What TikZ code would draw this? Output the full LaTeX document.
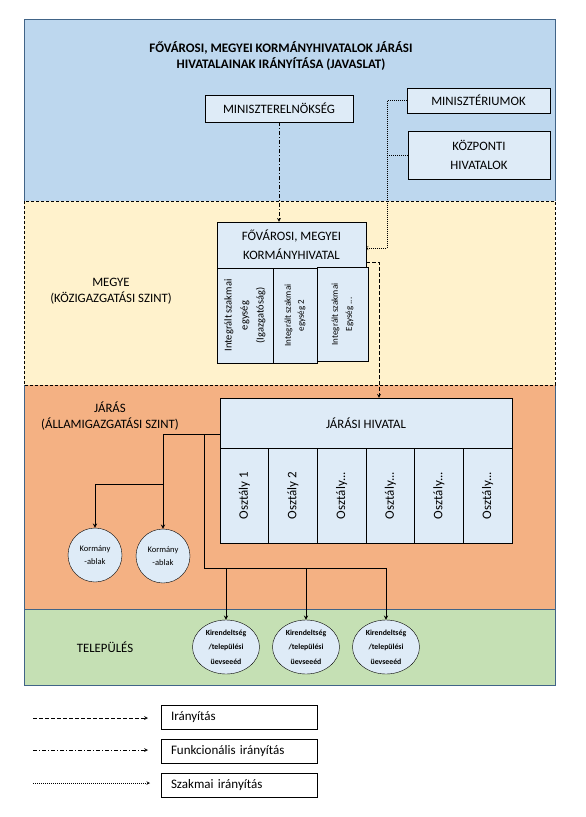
\documentclass[tikz,border=0pt]{standalone}
\usepackage{fontspec}
\setmainfont{Carlito}
\usetikzlibrary{shapes.geometric, arrows, calc}

\definecolor{skyband}{HTML}{BDD7EE}
\definecolor{sandband}{HTML}{FFF2CC}
\definecolor{rustband}{HTML}{F4B183}
\definecolor{leafband}{HTML}{C5E0B4}
\definecolor{boxfill}{HTML}{DEEBF7}
\definecolor{bandedge}{RGB}{65,100,135}

\begin{document}
\begin{tikzpicture}[x=1pt, y=-1pt,
        % Define node styles
        titletext/.style={font=\fontsize{13}{16}\selectfont\bfseries, align=center},
        tiertext/.style={font=\fontsize{12.8}{16}\selectfont, align=center},
        officebox/.style={rectangle, draw, fill=boxfill, inner sep=0pt, align=center, font=\fontsize{12.8}{19}\selectfont},
        unitbox/.style={rectangle, draw, fill=boxfill, inner sep=0pt, align=center},
        deptbox/.style={rectangle, draw, fill=boxfill, inner sep=0pt, minimum width=95pt, minimum height=48.67pt, font=\fontsize{13}{15}\selectfont},
        winnode/.style={circle, draw, fill=boxfill, inner sep=0pt, minimum size=54pt, align=center, font=\fontsize{8.5}{13}\selectfont},
        kirnode/.style={ellipse, draw, fill=boxfill, inner sep=0pt, minimum width=67pt, minimum height=54pt, align=center, font=\fontsize{7.8}{14.5}\selectfont\bfseries},
        legbox/.style={rectangle, draw, fill=white, minimum width=156pt, minimum height=24pt, inner sep=0pt, text width=136pt, align=left, font=\fontsize{13}{14}\selectfont},
        arrow/.style={->, >=stealth},
        ctrlline/.style={arrow, line width=0.7pt, dash pattern=on 3.5pt off 2.5pt},
        funcline/.style={arrow, line width=0.7pt, dash pattern=on 4pt off 2pt on 1pt off 2pt},
        proline/.style={line width=0.6pt, dash pattern=on 1pt off 1pt},
        treeline/.style={arrow, line width=0.9pt}
    ]
    \useasboundingbox (0,0) rectangle (586,817);

    % Bands
    \fill[skyband] (24,19) rectangle (555,201);
    \fill[sandband] (24,201) rectangle (555,385);
    \fill[rustband] (24,385) rectangle (555,609);
    \fill[leafband] (24,609) rectangle (555,685);
    \draw[bandedge] (24,201) -- (24,19) -- (555,19) -- (555,201);
    \draw[bandedge] (24,385) -- (24,609) (555,385) -- (555,609);
    \draw[bandedge] (24,609) rectangle (555,685);
    \draw[line width=0.7pt, dash pattern=on 3pt off 2pt] (24,201) rectangle (555,385);

    % Top level
    \node[titletext] (title) at (281,56) {FŐVÁROSI, MEGYEI KORMÁNYHIVATALOK JÁRÁSI\\HIVATALAINAK IRÁNYÍTÁSA (JAVASLAT)};
    \node[officebox, minimum width=148pt, minimum height=27pt] (pm) at (279,108.5) {MINISZTERELNÖKSÉG};
    \node[officebox, minimum width=143pt, minimum height=25pt] (mins) at (478.5,100.5) {MINISZTÉRIUMOK};
    \node[officebox, minimum width=142pt, minimum height=48pt] (kozp) at (479,155) {KÖZPONTI\\HIVATALOK};

    % County level
    \node[tiertext] (megye) at (111,291) {MEGYE\\(KÖZIGAZGATÁSI SZINT)};
    \node[officebox, minimum width=149pt, minimum height=46pt] (kh) at (291.5,245) {FŐVÁROSI, MEGYEI\\KORMÁNYHIVATAL};
    \node[unitbox, rotate=90, minimum width=95pt, minimum height=56pt, font=\fontsize{10.5}{16}\selectfont] (ie1) at (245,315.5) {Integrált szakmai\\egység\\(Igazgatóság)};
    \node[unitbox, rotate=90, minimum width=95pt, minimum height=44pt, font=\fontsize{9}{13}\selectfont] (ie2) at (295,315.5) {Integrált szakmai\\egység 2};
    \node[unitbox, rotate=90, minimum width=94pt, minimum height=51pt, font=\fontsize{9}{14}\selectfont] (ie3) at (342.5,314.5) {Integrált szakmai\\Egység ...};

    % District level
    \node[tiertext] (jaras) at (110,416) {JÁRÁS\\(ÁLLAMIGAZGATÁSI SZINT)};
    \node[officebox, minimum width=292pt, minimum height=50pt] (jh) at (366,423) {JÁRÁSI HIVATAL};
    \foreach \i/\lbl in {1/{Osztály 1}, 2/{Osztály 2}, 3/{Osztály...}, 4/{Osztály...}, 5/{Osztály...}, 6/{Osztály...}}
        \node[deptbox, rotate=90] (o\i) at ({220+48.67*(\i-0.5)},495.5) {\lbl};
    \node[winnode] (kab1) at (95,555) {Kormány\\-ablak};
    \node[winnode] (kab2) at (163,556) {Kormány\\-ablak};

    % Settlement level
    \node[tiertext] (telep) at (105,647) {TELEPÜLÉS};
    \foreach \i/\x in {1/226, 2/306, 3/386}
        \node[kirnode] (kir\i) at (\x,647) {Kirendeltség\\/települési\\üevseeéd};

    % Connect the offices
    \draw[funcline] (pm) -- (pm |- kh.north);
    \coordinate (pbend) at (387,248);
    \draw[proline, -to] (mins.west) -| (pbend) -- (kh.east |- pbend);
    \draw[proline] (kozp.west) -- (kozp.west -| pbend);
    \coordinate (cbend) at (379,262);
    \draw[ctrlline] (kh.east |- cbend) -- (cbend) -- (cbend |- jh.north);

    \coordinate (wsplit) at (163,434);
    \coordinate (wfork) at (163,484);
    \coordinate (ksplit) at (204,434);
    \coordinate (kbus) at (204,568);
    \draw[treeline] (jh.west |- wsplit) -- (wsplit) -- (kab2.north);
    \draw[treeline] (wfork) -| (kab1.north);
    \draw[line width=0.9pt] (ksplit) -- (kbus) -- (kbus -| kir3.north);
    \foreach \i in {1,2,3}
        \draw[treeline] (kbus -| kir\i.north) -- (kir\i.north);

    % Legend
    \node[legbox] (leg1) at (239,717) {Irányítás};
    \node[legbox] (leg2) at (239,751.5) {Funkcionális irányítás};
    \node[legbox] (leg3) at (239,785.5) {Szakmai irányítás};
    \coordinate (lg1a) at (33,718);
    \coordinate (lg1b) at (148,718);
    \coordinate (lg2a) at (33,750);
    \coordinate (lg2b) at (148,750);
    \coordinate (lg3a) at (33,783);
    \coordinate (lg3b) at (150,783);
    \draw[ctrlline] (lg1a) -- (lg1b);
    \draw[funcline] (lg2a) -- (lg2b);
    \draw[proline, arrow] (lg3a) -- (lg3b);

\end{tikzpicture}
\end{document}
